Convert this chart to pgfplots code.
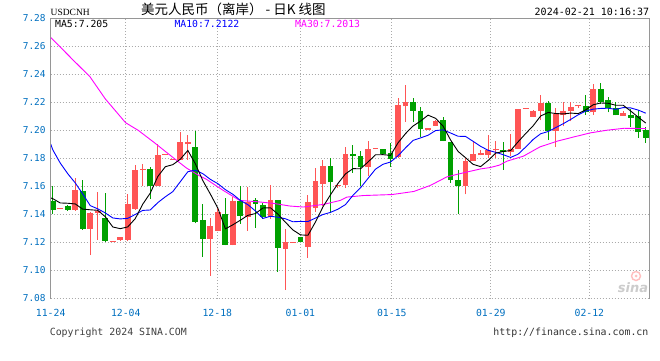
\documentclass[border=0pt]{standalone}
\usepackage{fontspec}
\usepackage{pgfplots}
\usepackage{pgfplotstable}
\pgfplotsset{compat=1.18}
\usetikzlibrary{backgrounds}
\newfontfamily\mono{DejaVu Sans Mono}
\newfontfamily\cjk{Noto Sans CJK SC}
\newfontfamily\serifb{Liberation Serif}
\newfontfamily\sansb{DejaVu Sans}
\definecolor{cred}{RGB}{255,85,85}
\definecolor{cgreen}{RGB}{0,160,0}
\definecolor{tickblue}{RGB}{0,112,192}
\definecolor{gridgray}{RGB}{170,170,170}
\definecolor{bordergray}{RGB}{150,150,150}
\definecolor{maten}{RGB}{0,0,255}
\definecolor{mathirty}{RGB}{255,0,255}

\pgfplotstableread{
i o h l c
1 7.1438 7.1446 7.1438 7.1446
3 7.1435 7.1663 7.1428 7.1577
5 7.1299 7.1420 7.1109 7.1413
6 7.1413 7.1563 7.1216 7.1423
8 7.1206 7.1214 7.1206 7.1214
9 7.1216 7.1238 7.1212 7.1238
10 7.1221 7.1549 7.1207 7.1477
11 7.1442 7.1755 7.1435 7.1720
12 7.1716 7.1762 7.1606 7.1724
14 7.1606 7.1903 7.1606 7.1827
15 7.1823 7.1831 7.1823 7.1831
16 7.1789 7.1797 7.1789 7.1797
17 7.1791 7.1990 7.1790 7.1919
18 7.1900 7.1970 7.1790 7.1919
21 7.1225 7.1372 7.0962 7.1315
22 7.1282 7.1448 7.1280 7.1415
24 7.1182 7.1527 7.1180 7.1494
26 7.1385 7.1593 7.1285 7.1489
29 7.1382 7.1608 7.1370 7.1501
31 7.1154 7.1294 7.0862 7.1201
32 7.1198 7.1206 7.1198 7.1206
34 7.1168 7.1539 7.1090 7.1486
35 7.1446 7.1729 7.1418 7.1636
36 7.1619 7.1786 7.1460 7.1743
38 7.1605 7.1616 7.1588 7.1613
39 7.1607 7.1880 7.1588 7.1828
42 7.1737 7.1925 7.1673 7.1870
43 7.1866 7.1874 7.1866 7.1874
46 7.1809 7.2231 7.1802 7.2184
47 7.2172 7.2324 7.2060 7.2200
50 7.2006 7.2014 7.2006 7.2014
51 7.2032 7.2077 7.2030 7.2070
55 7.1600 7.1806 7.1543 7.1785
56 7.1780 7.1927 7.1780 7.1835
57 7.1822 7.1858 7.1822 7.1842
58 7.1827 7.1968 7.1804 7.1863
59 7.1858 7.1927 7.1804 7.1866
61 7.1847 7.1977 7.1818 7.1870
62 7.1866 7.2155 7.1866 7.2155
63 7.2151 7.2159 7.2151 7.2159
64 7.2096 7.2144 7.2094 7.2141
65 7.2137 7.2250 7.2072 7.2193
67 7.1996 7.2158 7.1880 7.2117
68 7.2108 7.2203 7.2029 7.2141
69 7.2136 7.2203 7.2065 7.2170
70 7.2172 7.2180 7.2160 7.2180
72 7.2129 7.2333 7.2110 7.2298
76 7.2101 7.2136 7.2101 7.2127
}\redtab

\pgfplotstableread{
i o h l c
0 7.1499 7.1606 7.1406 7.1435
2 7.1463 7.1466 7.1428 7.1435
4 7.1570 7.1648 7.1292 7.1299
7 7.1378 7.1556 7.1205 7.1207
13 7.1727 7.1741 7.1513 7.1606
19 7.1884 7.1998 7.1337 7.1349
20 7.1358 7.1472 7.1097 7.1225
23 7.1400 7.1520 7.1180 7.1182
25 7.1498 7.1600 7.1332 7.1389
27 7.1501 7.1517 7.1304 7.1477
28 7.1465 7.1484 7.1370 7.1382
30 7.1501 7.1501 7.0990 7.1161
33 7.1237 7.1242 7.1204 7.1206
37 7.1743 7.1800 7.1408 7.1629
40 7.1828 7.1896 7.1697 7.1820
41 7.1818 7.1851 7.1602 7.1737
44 7.1870 7.1870 7.1832 7.1832
45 7.1839 7.1908 7.1740 7.1799
48 7.2200 7.2234 7.2060 7.2141
49 7.2139 7.2170 7.1953 7.2008
52 7.2075 7.2094 7.1923 7.1923
53 7.1920 7.1920 7.1628 7.1645
54 7.1647 7.1716 7.1402 7.1600
60 7.1863 7.1920 7.1718 7.1844
66 7.2193 7.2208 7.1932 7.1996
71 7.2177 7.2255 7.2113 7.2129
73 7.2298 7.2338 7.2191 7.2205
74 7.2220 7.2238 7.2129 7.2158
75 7.2162 7.2200 7.2108 7.2108
77 7.2113 7.2153 7.2027 7.2091
78 7.2101 7.2148 7.1946 7.1987
79 7.2001 7.2025 7.1913 7.1949
}\greentab

\pgfplotstableread{
x y
-0.27 7.1518
0 7.1513
1 7.1482
2 7.1480
3 7.1475
4 7.14378
5 7.14334
6 7.14294
7 7.13838
8 7.13106
9 7.12984
10 7.13112
11 7.13706
12 7.1474
13 7.1553
14 7.16708
15 7.17408
16 7.17554
17 7.17944
18 7.1857
19 7.17614
20 7.1641
21 7.15454
22 7.14446
23 7.12972
24 7.13262
25 7.1359
26 7.13938
27 7.14062
28 7.14462
29 7.14476
30 7.1402
31 7.13444
32 7.12894
33 7.12542
34 7.12512
35 7.13462
36 7.14546
37 7.154
38 7.16212
39 7.16896
40 7.1727
41 7.17258
42 7.1774
43 7.18258
44 7.18266
45 7.18218
46 7.19112
47 7.19772
48 7.20312
49 7.20664
50 7.21088
51 7.2086
52 7.20306
53 7.19314
54 7.18498
55 7.18046
56 7.17576
57 7.17414
58 7.1785
59 7.18374
60 7.18492
61 7.18562
62 7.19188
63 7.19772
64 7.2033
65 7.21028
66 7.2128
67 7.21204
68 7.21176
69 7.21234
70 7.212
71 7.21466
72 7.21828
73 7.21956
74 7.21932
75 7.21796
76 7.21792
77 7.21378
78 7.20942
79 7.20524
}\mafive

\pgfplotstableread{
x y
-0.27 7.1903
0 7.1862
1 7.1767
2 7.1691
3 7.1625
4 7.1546
5 7.1463
6 7.1440
7 7.1411
8 7.1375
9 7.13681
10 7.13723
11 7.1400
12 7.14289
13 7.14318
14 7.14846
15 7.1526
16 7.1563
17 7.16342
18 7.1705
19 7.17161
20 7.16909
21 7.16504
22 7.16195
23 7.15771
24 7.15438
25 7.1500
26 7.14696
27 7.14254
28 7.13717
29 7.13869
30 7.13805
31 7.13691
32 7.13478
33 7.13502
34 7.13494
35 7.13741
36 7.13995
37 7.14147
38 7.14377
39 7.14704
40 7.15366
41 7.15902
42 7.1657
43 7.17235
44 7.17581
45 7.17744
46 7.18185
47 7.18756
48 7.19285
49 7.19465
50 7.19653
51 7.19986
52 7.20039
53 7.19813
54 7.19581
55 7.19567
56 7.19218
57 7.1886
58 7.18582
59 7.18436
60 7.18269
61 7.18069
62 7.18301
63 7.18811
64 7.19352
65 7.1976
66 7.19921
67 7.20196
68 7.20474
69 7.20782
70 7.21114
71 7.21373
72 7.21516
73 7.21566
74 7.21583
75 7.21498
76 7.21629
77 7.21603
78 7.21449
79 7.21228
}\maten

\pgfplotstableread{
x y
-0.27 7.2663
2.74 7.2501
4.97 7.2382
7.0 7.2225
9.7 7.2055
11.4 7.2000
13.6 7.1910
16.1 7.1803
17.8 7.1732
19.5 7.1677
20.5 7.1650
22.7 7.1572
24.9 7.1500
27.2 7.1491
29.4 7.1479
31.6 7.1460
33.4 7.1453
36.1 7.1472
38.3 7.1500
39.2 7.1524
41.4 7.1535
45.2 7.1542
48.1 7.1564
50.3 7.1607
52.5 7.1668
54.7 7.1697
57.0 7.1725
58.3 7.1735
59.5 7.1752
60.5 7.1780
62.7 7.1816
64.9 7.1882
67.2 7.1923
69.4 7.1953
71.6 7.1982
73.8 7.2001
76.1 7.2015
79.0 7.2013
}\mathirtytab

\begin{document}
\begin{tikzpicture}[x=1pt,y=1pt]
\begin{axis}[
  width=598.8pt, height=280.2pt, scale only axis,
  xmin=-0.27, xmax=79.5, ymin=7.08, ymax=7.28,
  clip=false,
  axis line style={draw=none},
  major tick length=0pt,
  scaled y ticks=false,
  xtick={-0.27,9.73,21.93,32.99,45.17,58.36,71.49},
  xticklabels={11-24,12-04,12-18,01-01,01-15,01-29,02-12},
  ytick={7.08,7.10,7.12,7.14,7.16,7.18,7.20,7.22,7.24,7.26,7.28},
  yticklabels={7.08,7.10,7.12,7.14,7.16,7.18,7.20,7.22,7.24,7.26,7.28},
  grid=major,
  major grid style={gridgray, line width=0.8pt, dash pattern=on 1pt off 2pt},
  xticklabel style={font=\fontsize{9.8}{10}\selectfont\mono, text=tickblue, yshift=-7pt},
  yticklabel style={font=\fontsize{9.5}{10}\selectfont\mono, text=tickblue, xshift=-1.5pt},
]
% wicks
\addplot[draw=none, mark=none, forget plot, error bars/.cd, y dir=plus, y explicit, error mark=none,
  error bar style={draw=cred, line width=1pt}]
  table[x=i, y=l, y error expr=\thisrow{h}-\thisrow{l}] {\redtab};
\addplot[draw=none, mark=none, forget plot, error bars/.cd, y dir=plus, y explicit, error mark=none,
  error bar style={draw=cgreen, line width=1pt}]
  table[x=i, y=l, y error expr=\thisrow{h}-\thisrow{l}] {\greentab};
% bodies
\addplot[draw=none, mark=none, forget plot, error bars/.cd, y dir=plus, y explicit, error mark=none,
  error bar style={draw=cred, line width=5.8pt}]
  table[x=i, y=o, y error expr=\thisrow{c}-\thisrow{o}] {\redtab};
\addplot[draw=none, mark=none, forget plot, error bars/.cd, y dir=plus, y explicit, error mark=none,
  error bar style={draw=cgreen, line width=5.8pt}]
  table[x=i, y=c, y error expr=\thisrow{o}-\thisrow{c}] {\greentab};
% moving averages
\addplot[mathirty, line width=0.9pt, mark=none] table[x=x, y=y] {\mathirtytab};
\addplot[maten, line width=0.9pt, mark=none] table[x=x, y=y] {\maten};
\addplot[black, line width=0.9pt, mark=none] table[x=x, y=y] {\mafive};
% border
\draw[bordergray, line width=1.2pt] (rel axis cs:0,0) -- (rel axis cs:0,1) -- (rel axis cs:1,1) -- (rel axis cs:1,0);
\coordinate (SW) at (rel axis cs:0,0);
\end{axis}
\pgfresetboundingbox
\begin{scope}[shift={(SW)}, xshift=-50.7pt, yshift=-61.5pt]
\path[use as bounding box] (0,0) rectangle (660,360);
\begin{scope}[on background layer]
\fill[white] (0,0) rectangle (660,360);
\end{scope}
% header texts
\node[anchor=base west, inner sep=0pt, font=\fontsize{9.5}{10}\selectfont\serifb] at (50.5,345) {USDCNH};
\node[anchor=base west, inner sep=0pt, font=\fontsize{13.5}{14}\selectfont\cjk] at (141,345.4) {美元人民币（离岸） - 日K 线图};
\node[anchor=base east, inner sep=0pt, font=\fontsize{10}{10}\selectfont\mono] at (649.3,344.4) {2024-02-21 10:16:37};
\node[anchor=base west, inner sep=0pt, font=\fontsize{9.8}{10}\selectfont\mono, text=black] at (55,332.4) {MA5:7.205};
\node[anchor=base west, inner sep=0pt, font=\fontsize{9.8}{10}\selectfont\mono, text=maten] at (174.3,332.4) {MA10:7.2122};
\node[anchor=base west, inner sep=0pt, font=\fontsize{9.8}{10}\selectfont\mono, text=mathirty] at (295,332.4) {MA30:7.2013};
% footer
\node[anchor=base west, inner sep=0pt, font=\fontsize{9.9}{10}\selectfont\mono, text=black!75] at (49.6,24.5) {Copyright 2024 SINA.COM};
\node[anchor=base east, inner sep=0pt, font=\fontsize{9.9}{10}\selectfont\mono, text=black!80] at (648.6,24.5) {http://finance.sina.com.cn};
% watermark
\draw[red!25, line width=1.4pt] (636,84) circle (4.5);
\fill[red!25] (636,84) circle (1.5);
\node[anchor=base, inner sep=0pt, font=\fontsize{13}{13}\selectfont\sansb\bfseries\itshape, text=gray!40] at (633,67.5) {sina};
\end{scope}
\end{tikzpicture}
\end{document}
